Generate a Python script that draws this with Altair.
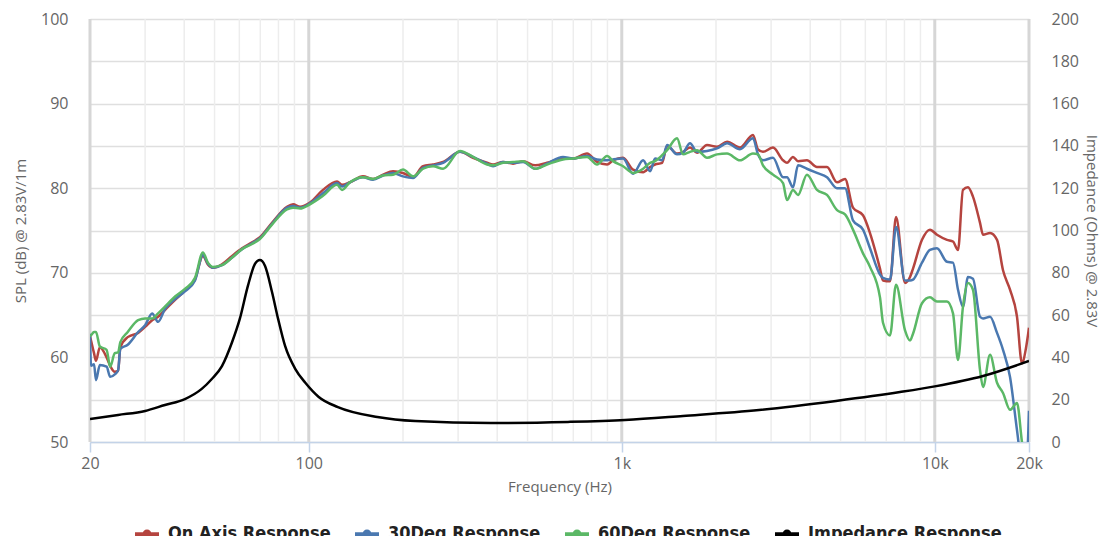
import altair as alt
import pandas as pd

# ---------------- data ----------------
FREQ = [20, 20.15, 20.6, 20.9, 21.5, 22.6, 23.2, 24.0, 24.6, 25.0, 26.4, 28.5, 30.0, 31.6, 33.0,
        34.7, 37.4, 40.2, 43.3, 45.9, 47.6, 49.4, 52.8, 56.9, 61.2, 65.9, 69.8, 76.3, 85.2, 89.1,
        93.8, 100.9, 111, 123.1, 127.7, 135.4, 149, 160.4, 172.7, 185.9, 200, 215.3, 231.8, 249.5,
        268.6, 304.2, 334.7, 371, 387.8, 417.4, 449.4, 483.8, 528.4, 577, 649, 698.6, 774.3, 833.6,
        897.5, 937.8, 1009.7, 1086.6, 1169.9, 1231.6, 1277.8, 1345.5, 1395.9, 1501.4, 1569.3,
        1651.9, 1739.5, 1872.6, 2014.8, 2169, 2386, 2625, 2724, 2825, 3042, 3275, 3372, 3524, 3656,
        3904, 4204, 4525, 4872, 5167, 5478, 5898, 6209, 6683, 6832, 7194, 7520, 8034, 8335, 8521,
        9103, 9652, 10162, 10940, 11434, 11864, 12305, 12766, 13243, 13950, 14260, 15015, 15808,
        16519, 17392, 18310, 18990, 19540, 20000]

ON_AXIS = [62.5, 62.0, 60.5, 59.6, 61.2, 60.0, 59.0, 58.3, 58.4, 61.2, 62.4, 62.9, 63.6, 64.4, 64.8,
           65.6, 66.8, 67.9, 69.2, 72.0, 71.0, 70.6, 71.0, 72.0, 72.9, 73.6, 74.2, 75.9, 77.8, 78.1,
           77.8, 78.3, 79.8, 80.8, 80.4, 80.7, 81.4, 81.1, 81.6, 82.0, 81.8, 81.3, 82.6, 82.8,
           83.1, 84.3, 83.6, 83.0, 82.8, 83.1, 82.9, 83.2, 82.7, 83.0, 83.5, 83.5, 84.1, 83.1,
           82.8, 83.3, 83.6, 82.2, 81.9, 82.5, 82.8, 83.0, 85.0, 84.1, 84.3,
           84.8, 84.2, 85.1, 84.9, 85.5, 84.8, 86.3, 84.6, 84.3, 84.8, 83.3, 83.0, 83.7, 83.2,
           83.3, 82.5, 82.5, 80.7, 81.1, 77.7, 76.8, 74.7, 70.5, 69.1, 69.0, 76.6, 68.8, 69.5, 70.5,
           73.9, 75.1, 74.5, 73.9, 73.7, 72.7, 79.8, 80.1, 79.0, 75.9, 74.5, 74.7, 73.9,
           70.3, 68.0, 64.8, 59.3, 61.0, 63.5]

DEG30 = [62.8, 59.0, 59.2, 57.3, 59.1, 58.9, 57.7, 58.0, 58.5, 61.0, 61.5, 63.0, 63.8, 65.2, 64.2,
         65.7, 66.9, 67.8, 69.1, 72.1, 71.1, 70.6, 70.9, 71.8, 72.8, 73.5, 74.1, 75.8, 77.7, 77.9,
         77.7, 78.2, 79.4, 80.6, 80.2, 80.7, 81.3, 81.0, 81.5, 81.8, 81.4, 81.2, 82.4, 82.7,
         83.0, 84.3, 83.7, 82.9, 82.6, 83.1, 83.0, 83.1, 82.3, 82.9, 83.7, 83.5, 83.8, 83.4,
         83.3, 83.4, 83.5, 81.7, 83.3, 82.0, 83.5, 83.3, 85.1, 84.0, 84.2,
         85.3, 84.3, 84.4, 84.7, 85.3, 84.6, 85.9, 84.0, 83.3, 83.6, 81.3, 81.3, 80.1, 82.7,
         82.3, 81.8, 81.3, 80.0, 80.0, 76.2, 75.1, 72.9, 69.8, 69.4, 69.2, 75.4, 69.1, 69.1, 69.2,
         71.2, 72.7, 72.9, 71.3, 71.2, 68.0, 66.0, 69.5, 69.3, 64.8, 64.6, 64.8, 62.9,
         60.9, 57.7, 51.4, 47.0, 46.0, 53.7]

DEG60 = [62.5, 62.6, 63.0, 63.0, 61.3, 60.9, 58.9, 60.5, 60.6, 61.8, 63.0, 64.4, 64.6, 64.6, 65.2,
         66.0, 67.2, 68.1, 69.4, 72.4, 71.2, 70.7, 70.9, 71.8, 72.8, 73.4, 74.0, 75.7, 77.5, 77.7,
         77.6, 78.1, 79.1, 80.4, 79.8, 80.7, 81.3, 81.1, 81.5, 81.6, 82.2, 81.4, 82.3, 82.6,
         82.3, 84.4, 83.7, 82.8, 82.7, 83.0, 83.1, 83.2, 82.3, 82.8, 83.4, 83.5, 83.7, 82.8,
         83.8, 83.2, 82.6, 81.8, 82.3, 83.0, 83.2, 83.9, 84.5, 85.9, 84.0,
         84.3, 84.5, 83.6, 84.0, 84.1, 83.3, 84.1, 84.0, 82.7, 81.6, 80.6, 78.6, 79.8, 79.2,
         81.6, 79.8, 79.2, 77.4, 76.9, 75.1, 72.3, 70.7, 67.1, 64.1, 62.6, 68.6, 63.2, 62.0, 62.8,
         66.4, 67.1, 66.6, 66.6, 65.2, 59.7, 66.0, 68.8, 68.0, 58.5, 56.5, 60.3, 57.0,
         55.8, 53.8, 54.6, 50.0, 47.0, 47.0]

IMP_FREQ = [20, 24.6, 30, 34.7, 40.2, 45.5, 49, 52.8, 56.9, 60.2, 63.9, 67.3, 68.5, 69.8, 71.0,
            72.5, 76.3, 79.8, 84, 90.6, 97.5, 107.6, 123.9, 165.6, 218.8, 382, 673, 1024, 1569,
            2745, 4836, 7742, 10000, 14260, 20000]
IMPEDANCE = [10.9, 12.8, 14.7, 17.5, 20.3, 25.1, 29.8, 35.9, 47.3, 58.2, 73.8, 84.2, 85.6, 86.0, 85.5,
             83.2, 70.9, 58.2, 45.4, 34.5, 28.0, 21.3, 16.5, 11.8, 9.9, 9.0, 9.5, 10.4, 12.3,
             15.1, 19.4, 23.6, 26.3, 31.2, 38.3]

SERIES = ["On Axis Response", "30Deg Response", "60Deg Response", "Impedance Response"]
COLORS = ["#b5443f", "#4a78b0", "#5bb866", "#000000"]

MAJOR_TICKS = [20, 100, 1000, 10000, 20000]
MINOR_TICKS = [30, 40, 50, 60, 70, 80, 90, 200, 300, 400, 500, 600, 700, 800, 900,
               2000, 3000, 4000, 5000, 6000, 7000, 8000, 9000]

# ---------------- tables ----------------
spl = pd.concat([
    pd.DataFrame({"freq": FREQ, "value": ON_AXIS, "series": SERIES[0]}),
    pd.DataFrame({"freq": FREQ, "value": DEG30, "series": SERIES[1]}),
    pd.DataFrame({"freq": FREQ, "value": DEG60, "series": SERIES[2]}),
], ignore_index=True)
imp = pd.DataFrame({"freq": IMP_FREQ, "value": IMPEDANCE, "series": SERIES[3]})

xscale = alt.Scale(type="log", domain=[20, 20000], nice=False)
cscale = alt.Scale(domain=SERIES, range=COLORS)

xaxis = alt.Axis(
    values=MAJOR_TICKS,
    labelExpr="datum.value >= 1000 ? format(datum.value / 1000, 'd') + 'k' : format(datum.value, 'd')",
    title="Frequency (Hz)", grid=False, labelFlush=False,
    domainColor="#c3d3e8", domainWidth=1.5, tickColor="#c3d3e8", tickWidth=1.5, tickSize=10,
    labelPadding=3, titlePadding=8,
)
X = alt.X("freq:Q", scale=xscale, axis=xaxis)

# legend symbol: short line with a dot on it
legend = alt.Legend(
    title=None, orient="none", direction="horizontal", columns=4,
    legendX=43, legendY=501, padding=0,
    symbolType="M-1,0H1M0.22,0A0.22,0.22,0,1,1,-0.22,0A0.22,0.22,0,1,1,0.22,0Z",
    labelFont="Liberation Sans Narrow, DejaVu Sans Condensed, sans-serif",
    labelFontSize=18, labelFontWeight="bold", labelColor="#222", labelLimit=400,
    symbolSize=576, symbolStrokeWidth=4, labelOffset=7, columnPadding=16,
)

minor = alt.Chart(pd.DataFrame({"freq": MINOR_TICKS})).mark_rule(
    color="#ededed", strokeWidth=1.5
).encode(x=X)

major = alt.Chart(pd.DataFrame({"freq": MAJOR_TICKS})).mark_rule(
    color="#d6d6d6", strokeWidth=3
).encode(x=X)

spl_lines = alt.Chart(spl).mark_line(strokeWidth=2.5, clip=True, interpolate="monotone").encode(
    x=X,
    y=alt.Y("value:Q", scale=alt.Scale(domain=[50, 100], nice=False, zero=False), axis=alt.Axis(
        values=list(range(50, 101, 5)),
        labelExpr="datum.value % 10 === 0 ? datum.label : ''",
        title="SPL (dB) @ 2.83V/1m", grid=True, gridColor="#dfdfdf", gridWidth=1.5,
        ticks=False, domain=False, labelPadding=22, titlePadding=12,
    )),
    stroke=alt.Stroke("series:N", scale=cscale, legend=legend),
)

imp_line = alt.Chart(imp).mark_line(strokeWidth=2.5, clip=True, interpolate="monotone").encode(
    x=X,
    y=alt.Y("value:Q", scale=alt.Scale(domain=[0, 200], nice=False), axis=alt.Axis(
        orient="right", values=list(range(0, 201, 20)),
        title="Impedance (Ohms) @ 2.83V", grid=False, ticks=False, domain=False,
        labelPadding=22, titlePadding=5,
    )),
    stroke=alt.Stroke("series:N", scale=cscale, legend=legend),
)

chart = alt.layer(minor, major, spl_lines, imp_line).resolve_scale(
    y="independent"
).properties(
    width=939, height=423, autosize="none",
    padding={"left": 82, "top": 11, "right": 74, "bottom": 94},
).configure_view(stroke=None).configure_axis(
    labelFont="Open Sans", labelFontSize=16, labelColor="#666",
    titleFont="Open Sans", titleFontSize=15, titleColor="#666", titleFontWeight="normal",
)

chart.save("out.html", embed_options={"renderer": "svg", "actions": False})
